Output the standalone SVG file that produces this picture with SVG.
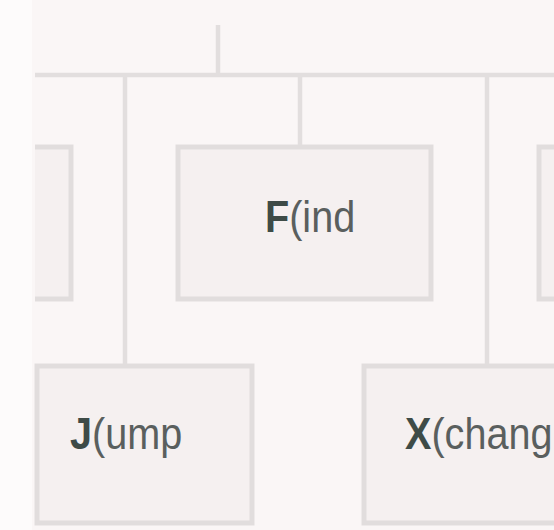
<svg xmlns="http://www.w3.org/2000/svg" width="554" height="530" viewBox="0 0 554 530">
  <style>
    .bg { fill: #faf6f6; }
    .box { fill: #f5f0f0; stroke: #e1dddd; stroke-width: 5; }
    .edge { fill: none; stroke: #e1dddd; stroke-width: 5; }
    .wire { fill: none; stroke: #e2dede; stroke-width: 4.5; stroke-linecap: butt; }
    .lbl { font-family: "Liberation Sans", Arial, sans-serif; font-size: 44px; fill: #5a5f5e; }
    .key { font-weight: bold; fill: #3e4b47; }
  </style>
  <rect class="bg" x="0" y="0" width="554" height="530"/>
  <rect x="0" y="0" width="32" height="530" fill="#fdfbfb"/>

  <g id="connectors">
    <line class="wire" x1="218" y1="25" x2="218" y2="75"/>
    <line class="wire" x1="35" y1="75" x2="554" y2="75"/>
    <line class="wire" x1="125" y1="75" x2="125" y2="365"/>
    <line class="wire" x1="300" y1="75" x2="300" y2="147"/>
    <line class="wire" x1="487" y1="75" x2="487" y2="365"/>
  </g>

  <g id="node-left">
    <rect x="35" y="147" width="36" height="152" fill="#f5f0f0"/>
    <path class="edge" d="M35,147 H71 V299 H35"/>
  </g>

  <g id="node-find">
    <rect class="box" x="178" y="147" width="253" height="152"/>
    <text class="lbl" transform="translate(265,232) scale(0.9,1)"><tspan class="key">F</tspan>(ind</text>
  </g>

  <g id="node-right">
    <rect x="539" y="147" width="20" height="152" fill="#f5f0f0"/>
    <path class="edge" d="M560,147 H539 V299 H560"/>
  </g>

  <g id="node-jump">
    <rect class="box" x="37" y="366" width="215" height="157"/>
    <text class="lbl" transform="translate(70,449) scale(0.9,1)"><tspan class="key">J</tspan>(ump</text>
  </g>

  <g id="node-xchange">
    <rect class="box" x="364" y="366" width="200" height="157"/>
    <text class="lbl" transform="translate(405,449) scale(0.9,1)"><tspan class="key">X</tspan>(chang</text>
  </g>
</svg>
